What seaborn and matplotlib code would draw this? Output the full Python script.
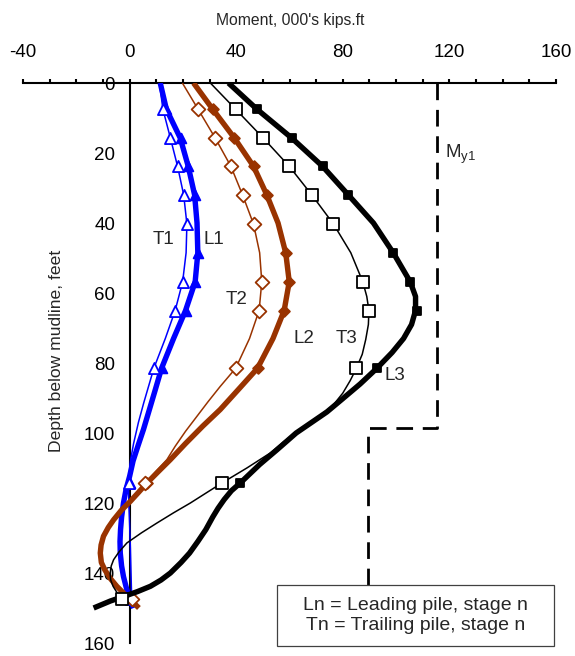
import numpy as np
import pandas as pd
import matplotlib
matplotlib.use("Agg")
import matplotlib.pyplot as plt
from matplotlib.patches import Rectangle
from matplotlib.ticker import MultipleLocator
import seaborn as sns

# marker depths (ft)
dep_L = [7.5, 15.7, 23.8, 32.0, 48.6, 56.8, 65.0, 81.5, 114.3, 147.0]
dep_T = [7.5, 15.7, 23.8, 32.0, 40.3, 56.8, 65.0, 81.5, 114.3, 147.3]

# measured moments at the markers (000's kips.ft)
L1_pts = [13.8, 19.4, 22.1, 24.5, 25.7, 24.6, 21.0, 12.0, 0.2, -0.3]
T1_pts = [12.5, 15.3, 18.0, 20.3, 21.5, 19.9, 17.1, 9.1, -0.4, 0.5]
L2_pts = [31.2, 39.3, 46.5, 51.5, 58.6, 59.9, 58.0, 48.0, 6.5, -0.8]
T2_pts = [25.7, 32.1, 38.0, 42.4, 46.5, 49.6, 48.6, 39.8, 5.9, 0.9]
L3_pts = [47.8, 60.8, 72.4, 82.1, 99.0, 105.3, 107.8, 92.8, 41.5, -2.5]
T3_pts = [39.8, 50.1, 59.9, 68.4, 76.5, 87.5, 89.8, 85.1, 34.6, -2.9]

# fitted moment curves
L1_dep = [0, 7.5, 15.7, 23.8, 32, 40, 48.6, 56.8, 65, 73, 81.5, 88, 94.4, 99, 104, 108, 112.4,
          116, 120, 124, 127.6, 131, 134.3, 138, 141, 144, 146.7, 150]
L1_mom = [11.5, 13.8, 19.0, 22.0, 24.4, 25.3, 25.6, 24.6, 21.0, 16.5, 12.0, 9.5, 7.0, 5.2, 3.0,
          1.3, 0.0, -1.3, -2.3, -3.0, -3.4, -3.6, -3.5, -3.0, -2.3, -1.3, -0.3, 1.5]

T1_dep = [0, 7.5, 15.7, 23.8, 32, 40.3, 48.5, 56.8, 65, 73, 81.5, 91.4, 97, 103, 108, 114.3,
          120, 126, 133, 139, 145, 149.5]
T1_mom = [11.2, 12.5, 15.3, 18.0, 20.3, 21.5, 21.2, 19.9, 17.1, 13.4, 9.1, 5.3, 3.3, 1.5, 0.3,
          -0.4, -0.3, 0.0, 0.3, 0.5, 0.7, 0.9]

L2_dep = [0, 7.5, 15.7, 23.8, 32, 40, 48.6, 56.8, 65, 73, 81.5, 87, 93.3, 98, 103, 107.6, 111,
          114.3, 117, 119.5, 122, 124.8, 127, 129.5, 132, 134.3, 137, 139.1, 141.5, 143.8, 146.7, 150]
L2_mom = [24.0, 31.2, 39.3, 46.5, 51.5, 55.7, 58.6, 59.9, 58.0, 53.8, 48.0, 41.5, 34.0, 27.5,
          21.0, 15.3, 10.8, 6.5, 3.3, 0.3, -3.0, -6.0, -8.0, -9.8, -10.7, -11.0, -10.6, -9.3,
          -7.3, -4.8, -1.0, 3.5]

T2_dep = [0, 7.5, 15.7, 23.8, 32, 40.3, 48.5, 56.8, 65, 73, 81.5, 86.7, 91, 95.2, 99.5, 103.8,
          107.6, 111, 114.3, 117, 119.5, 122, 124.8, 127, 129.5, 132, 134.3, 137, 139.1, 141.5,
          143.8, 147.3]
T2_mom = [19.8, 25.7, 32.1, 38.0, 42.4, 46.5, 48.8, 49.6, 48.6, 45.0, 39.8, 34.0, 29.5, 25.3,
          21.0, 17.1, 14.0, 9.8, 5.9, 3.0, 0.0, -3.3, -6.3, -8.3, -10.0, -11.0, -11.2, -10.8,
          -9.6, -7.6, -5.1, 0.9]

L3_dep = [0, 7.5, 15.7, 23.8, 32, 40, 48.6, 56.8, 61, 65, 69, 73, 77, 81.5, 86, 90.5, 94, 100,
          104.8, 109, 114.3, 116.5, 119, 121.5, 124, 127.6, 131, 134.3, 137, 140, 142, 143.8,
          145.3, 146.7, 148, 150]
L3_mom = [37.1, 47.8, 60.8, 72.4, 82.1, 91.5, 99.0, 105.3, 107.3, 107.3, 105.8, 102.8, 98.5,
          92.8, 86.5, 79.5, 74.0, 62.5, 55.3, 48.8, 41.5, 38.2, 35.5, 33.2, 31.2, 28.6, 25.6,
          22.5, 19.3, 15.3, 11.8, 7.8, 3.0, -2.2, -7.2, -13.5]

T3_dep = [0, 7.5, 15.7, 23.8, 32, 40.3, 48.5, 56.8, 61, 65, 69, 73.3, 77.5, 81.5, 85, 88.6,
          92.4, 96, 99.5, 102.5, 105.7, 110, 114.3, 117, 120, 122.8, 125.7, 128.5, 131.4, 134,
          136.2, 138, 140, 142, 143.8, 145.5, 147.3]
T3_mom = [30.3, 39.8, 50.1, 59.9, 68.4, 76.5, 83.0, 87.5, 89.0, 89.8, 89.6, 88.6, 87.3, 85.1,
          82.8, 80.0, 76.0, 69.5, 63.0, 57.8, 52.8, 44.0, 34.6, 29.0, 22.8, 16.5, 10.3, 4.5,
          -1.0, -4.0, -6.0, -6.9, -7.3, -7.1, -6.2, -4.8, -2.9]

# yield moment envelope
my_mom = [115.5, 115.5, 89.6, 89.6]
my_dep = [0, 98.6, 98.6, 160]

blue = "#0000FF"
brown = "#993300"

sns.set_style("white")
plt.rcParams["font.family"] = ["Liberation Sans", "DejaVu Sans"]
plt.rcParams["axes.unicode_minus"] = False

fig = plt.figure(figsize=(5.75, 6.56), dpi=100)
ax = fig.add_axes([23 / 575, 1 - 643 / 656, 533 / 575, 560 / 656])

series = [
    ("L1", L1_dep, L1_mom, dep_L, L1_pts, blue, 3.9, "^", blue, 7),
    ("T1", T1_dep, T1_mom, dep_T, T1_pts, blue, 1.1, "^", "white", 8),
    ("L2", L2_dep, L2_mom, dep_L, L2_pts, brown, 3.9, "D", brown, 5.5),
    ("T2", T2_dep, T2_mom, dep_T, T2_pts, brown, 1.1, "D", "white", 7),
    ("L3", L3_dep, L3_mom, dep_L, L3_pts, "black", 3.9, "s", "black", 6),
    ("T3", T3_dep, T3_mom, dep_T, T3_pts, "black", 1.1, "s", "white", 8.5),
]

z = 3
for name, cd, cm, md, mm, col, lw, mk, fc, ms in series:
    curve = pd.DataFrame({"depth": cd, "moment": cm})
    sns.lineplot(data=curve, x="moment", y="depth", sort=False, estimator=None,
                 color=col, lw=lw, ax=ax, zorder=z, solid_joinstyle="round",
                 solid_capstyle="butt")
    pts = pd.DataFrame({"depth": md, "moment": mm})
    sns.scatterplot(data=pts, x="moment", y="depth", marker=mk, s=ms ** 2,
                    facecolor=fc, edgecolor=col, linewidth=1.3, ax=ax, zorder=z + 0.5)
    z += 1

ax.plot(my_mom, my_dep, color="black", lw=2.0, dashes=(6, 3.5), zorder=2)

ax.set_xlim(-40, 160)
ax.set_ylim(160, 0)
ax.set_xlabel("")
ax.set_ylabel("")

for s in ["right", "bottom"]:
    ax.spines[s].set_visible(False)
ax.spines["left"].set_position(("data", 0))
ax.spines["top"].set_linewidth(1.5)
ax.spines["left"].set_linewidth(1.5)
ax.spines["top"].set_color("black")
ax.spines["left"].set_color("black")

ax.xaxis.set_ticks_position("top")
ax.xaxis.set_major_locator(MultipleLocator(40))
ax.xaxis.set_minor_locator(MultipleLocator(10))
ax.yaxis.set_major_locator(MultipleLocator(20))
ax.tick_params(axis="x", which="both", direction="out", length=3, width=1.5,
               colors="black", labelsize=13.5, pad=13)
ax.tick_params(axis="y", which="major", direction="out", length=5.5, width=1.5,
               colors="black", labelsize=13.5, pad=5)
ax.tick_params(axis="y", which="minor", left=False)

fig.text(290 / 575, 1 - 20 / 656, "Moment, 000's kips.ft", ha="center", va="center",
         fontsize=11.3)
fig.text(57 / 575, 1 - 351 / 656, "Depth below mudline, feet", ha="center", va="center",
         rotation=90, fontsize=12.6)

labels = [("T1", 12.7, 44.8), ("L1", 31.5, 44.8), ("T2", 40.0, 61.9), ("L2", 65.5, 73.1),
          ("T3", 81.5, 73.1), ("L3", 99.6, 83.6)]
for txt, xv, yv in labels:
    ax.text(xv, yv, txt, ha="center", va="center", fontsize=13.5, zorder=20)
ax.text(118.3, 20.5, r"M$_{\mathregular{y1}}$", ha="left", va="center", fontsize=13.5)

box = Rectangle((0.477, -0.005), 0.520, 0.108, transform=ax.transAxes, facecolor="white",
                edgecolor="#404040", lw=0.9, clip_on=False, zorder=30)
ax.add_patch(box)
ax.text(0.737, 0.049, "Ln = Leading pile, stage n\nTn = Trailing pile, stage n",
        transform=ax.transAxes, ha="center", va="center", fontsize=14, linespacing=1.2,
        zorder=31)

fig.savefig("out.png", dpi=100)
